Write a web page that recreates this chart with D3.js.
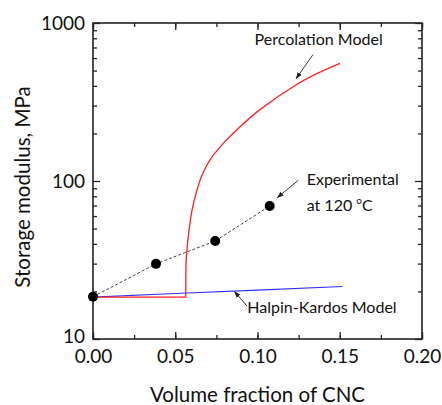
<!DOCTYPE html>
<html>
<head>
<meta charset="utf-8">
<script src="https://cdn.jsdelivr.net/npm/d3@7"></script>
<style>
  body { margin: 0; background: #fff; }
  svg { font-family: Lato, "Open Sans", sans-serif; }
</style>
</head>
<body>
<div id="chart"></div>
<script>
// experimental data at 120 C
const expX = [0, 0.0383, 0.0743, 0.1074];
const expY = [18.5, 29.9, 41.7, 69.5];

// percolation model; first two points are the flat part
const percX = [0, 0.0564, 0.0566, 0.0571, 0.0584, 0.0602, 0.0632, 0.0663, 0.0711, 0.0792, 0.0894, 0.1015, 0.1238, 0.136, 0.1501];
const percY = [18.4, 18.4, 30.7, 36.6, 49, 65.5, 87.7, 109, 136, 173, 220.6, 283, 408, 478, 556];

// Halpin-Kardos model
const hkX = [0, 0.05, 0.1, 0.1516];
const hkY = [18.4, 19.4, 20.4, 21.5];

const xTicks = [0, 0.05, 0.1, 0.15, 0.2];
const yTicks = [10, 100, 1000];

const margin = { top: 23, right: 20, bottom: 66, left: 93 };
const W = 442, H = 405;
const width = W - margin.left - margin.right;
const height = H - margin.top - margin.bottom;

const svg = d3.select('#chart').append('svg')
  .attr('width', W)
  .attr('height', H);

svg.append('defs').append('marker')
  .attr('id', 'arr')
  .attr('viewBox', '0 0 10 10')
  .attr('refX', 9).attr('refY', 5)
  .attr('markerWidth', 7).attr('markerHeight', 7)
  .attr('markerUnits', 'userSpaceOnUse')
  .attr('orient', 'auto')
  .append('path')
  .attr('d', 'M0,1.5L10,5L0,8.5Z')
  .attr('fill', '#222');

const g = svg.append('g').attr('transform', `translate(${margin.left},${margin.top})`);

const x = d3.scaleLinear().domain([0, 0.2]).range([0, width]);
const y = d3.scaleLog().domain([10, 1000]).range([height, 0]);

const minorX = d3.range(0, 0.2001, 0.025);
const minorY = [];
[10, 100].forEach(d => { for (let k = 2; k <= 9; k++) minorY.push(d * k); });

// minor ticks
g.append('g').attr('transform', `translate(0,${height})`)
  .call(d3.axisBottom(x).tickValues(minorX).tickSize(-4).tickFormat(''));
g.append('g')
  .call(d3.axisTop(x).tickValues(minorX).tickSize(-4).tickFormat(''));
g.append('g')
  .call(d3.axisLeft(y).tickValues(minorY).tickSize(-4).tickFormat(''));
g.append('g').attr('transform', `translate(${width},0)`)
  .call(d3.axisRight(y).tickValues(minorY).tickSize(-4).tickFormat(''));

// major ticks
g.append('g').attr('class', 'xaxis').attr('transform', `translate(0,${height})`)
  .call(d3.axisBottom(x).tickValues(xTicks).tickSize(-7).tickPadding(11).tickFormat(d3.format('.2f')));
g.append('g')
  .call(d3.axisTop(x).tickValues(xTicks).tickSize(-7).tickFormat(''));
g.append('g').attr('class', 'yaxis')
  .call(d3.axisLeft(y).tickValues(yTicks).tickSize(-7).tickPadding(8).tickFormat(d3.format('d')));
g.append('g').attr('transform', `translate(${width},0)`)
  .call(d3.axisRight(y).tickValues(yTicks).tickSize(-7).tickFormat(''));

g.selectAll('.domain').remove();
g.selectAll('.tick line').attr('stroke', '#222').attr('stroke-width', 1.3);
g.selectAll('.xaxis text, .yaxis text')
  .attr('font-size', 19).attr('fill', '#111')
  .attr('font-family', 'Lato, sans-serif');
g.selectAll('.yaxis .tick').filter(d => d === 10).select('text').attr('dy', '0.2em');

g.append('rect')
  .attr('width', width).attr('height', height)
  .attr('fill', 'none').attr('stroke', '#222').attr('stroke-width', 1.6);

const line = d3.line().x(d => x(d[0])).y(d => y(d[1]));
const smooth = d3.line().x(d => x(d[0])).y(d => y(d[1])).curve(d3.curveCatmullRom.alpha(0.5));

// models
g.append('path')
  .datum(hkX.map((v, i) => [v, hkY[i]]))
  .attr('d', line)
  .attr('fill', 'none').attr('stroke', '#3030ff').attr('stroke-width', 1.1);

const perc = percX.map((v, i) => [v, percY[i]]);
g.append('path')
  .attr('d', line(perc.slice(0, 2)) + smooth(perc.slice(1)).replace(/^M/, 'L'))
  .attr('fill', 'none').attr('stroke', '#ff2020').attr('stroke-width', 1.3)
  .attr('stroke-linejoin', 'round');

// experimental
g.append('path')
  .datum(expX.map((v, i) => [v, expY[i]]))
  .attr('d', line)
  .attr('fill', 'none').attr('stroke', '#444').attr('stroke-width', 1)
  .attr('stroke-dasharray', '3,2');

g.selectAll('circle.exp')
  .data(expX.map((v, i) => [v, expY[i]]))
  .enter().append('circle')
  .attr('class', 'exp')
  .attr('cx', d => x(d[0])).attr('cy', d => y(d[1]))
  .attr('r', 5).attr('fill', '#000');

// annotations
const ann = g.append('g').attr('font-size', 16).attr('fill', '#111');

ann.append('text').attr('x', x(0.0982)).attr('y', y(730)).text('Percolation Model');
g.append('line')
  .attr('x1', x(0.1337)).attr('y1', y(630))
  .attr('x2', x(0.1235)).attr('y2', y(445))
  .attr('stroke', '#222').attr('stroke-width', 0.9).attr('marker-end', 'url(#arr)');

ann.append('text').attr('x', x(0.1299)).attr('y', y(95)).text('Experimental');
const t2 = ann.append('text').attr('x', x(0.1299)).attr('y', y(65));
t2.append('tspan').text('at 120 ');
t2.append('tspan').attr('dy', -7).attr('font-size', 10).text('o');
t2.append('tspan').attr('dy', 7).text('C');
g.append('line')
  .attr('x1', x(0.1248)).attr('y1', y(101))
  .attr('x2', x(0.1120)).attr('y2', y(78.5))
  .attr('stroke', '#222').attr('stroke-width', 0.9).attr('marker-end', 'url(#arr)');

ann.append('text').attr('x', x(0.0938)).attr('y', y(14.7)).text('Halpin-Kardos Model');
g.append('line')
  .attr('x1', x(0.0935)).attr('y1', y(16.2))
  .attr('x2', x(0.0860)).attr('y2', y(20))
  .attr('stroke', '#222').attr('stroke-width', 0.9).attr('marker-end', 'url(#arr)');

// axis titles
svg.append('text')
  .attr('x', margin.left + width / 2).attr('y', 402)
  .attr('text-anchor', 'middle').attr('font-size', 20.5).attr('fill', '#111')
  .text('Volume fraction of CNC');

svg.append('text')
  .attr('transform', `translate(30,${margin.top + 164}) rotate(-90)`)
  .attr('text-anchor', 'middle').attr('font-size', 20.5).attr('fill', '#111')
  .text('Storage modulus, MPa');
</script>
</body>
</html>
